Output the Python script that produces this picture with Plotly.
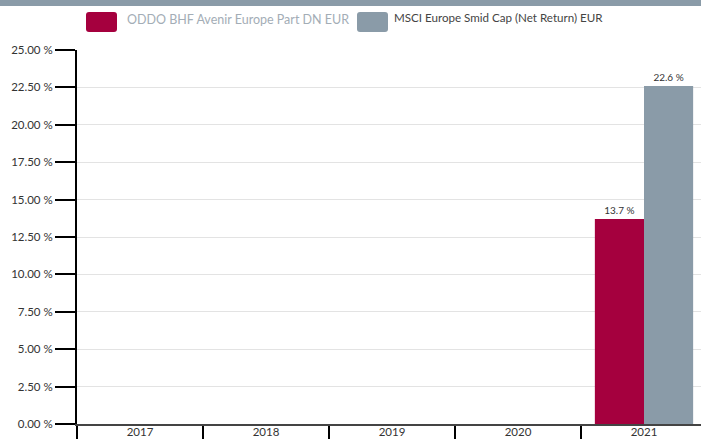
import plotly.graph_objects as go

years = ["2017", "2018", "2019", "2020", "2021"]
fund_name = "ODDO BHF Avenir Europe Part DN EUR"
bench_name = "MSCI Europe Smid Cap (Net Return) EUR"
fund_vals = [None, None, None, None, 13.7]
bench_vals = [None, None, None, None, 22.6]
fund_color = "#a5003e"
bench_color = "#8a9ba8"

W, H = 701, 439
L, R, T, B = 77, 0, 50, 15
pw, ph = W - L - R, H - T - B

def px(x):
    return (x - L) / pw

def py(y):
    return (H - B - y) / ph

def lab(v):
    return [None if x is None else f"{x:.1f} %" for x in v]

def rrect(x0, y0, x1, y1, r=3):
    pts = [
        f"M{px(x0 + r)},{py(y0)}", f"L{px(x1 - r)},{py(y0)}",
        f"Q{px(x1)},{py(y0)} {px(x1)},{py(y0 + r)}", f"L{px(x1)},{py(y1 - r)}",
        f"Q{px(x1)},{py(y1)} {px(x1 - r)},{py(y1)}", f"L{px(x0 + r)},{py(y1)}",
        f"Q{px(x0)},{py(y1)} {px(x0)},{py(y1 - r)}", f"L{px(x0)},{py(y0 + r)}",
        f"Q{px(x0)},{py(y0)} {px(x0 + r)},{py(y0)}", "Z",
    ]
    return " ".join(pts)

fig = go.Figure()
fig.add_trace(go.Bar(x=years, y=fund_vals, name=fund_name, marker_color=fund_color,
                     marker_line_width=0, text=lab(fund_vals), textposition="outside",
                     textfont=dict(size=10, color="#333"), cliponaxis=False, showlegend=False))
fig.add_trace(go.Bar(x=years, y=bench_vals, name=bench_name, marker_color=bench_color,
                     marker_line_width=0, text=lab(bench_vals), textposition="outside",
                     textfont=dict(size=10, color="#333"), cliponaxis=False, showlegend=False))

shapes = [
    dict(type="rect", xref="paper", yref="paper", x0=px(0), x1=px(W), y0=py(6), y1=py(-2),
         fillcolor=bench_color, line_width=0, layer="above"),
    dict(type="path", xref="paper", yref="paper", path=rrect(86, 12, 117, 32),
         fillcolor=fund_color, line_width=0),
    dict(type="path", xref="paper", yref="paper", path=rrect(357, 12, 388, 32),
         fillcolor=bench_color, line_width=0),
]
annotations = [
    dict(text=fund_name, xref="paper", yref="paper", x=px(125), y=py(19.5), xanchor="left",
         yanchor="middle", showarrow=False, font=dict(size=12.5, color="#a3adb6", family="Lato")),
    dict(text=bench_name, xref="paper", yref="paper", x=px(392), y=py(17), xanchor="left",
         yanchor="middle", showarrow=False,
         font=dict(size=11.6, color="#444", family="Lato")),
]

fig.update_layout(
    width=W, height=H, margin=dict(l=L, r=R, t=T, b=B, autoexpand=False),
    paper_bgcolor="white", plot_bgcolor="white",
    barmode="group", bargap=0.22, bargroupgap=0,
    font=dict(family="Lato", size=12, color="#333"),
    shapes=shapes, annotations=annotations, showlegend=False,
    xaxis=dict(type="category", range=[-0.5, -0.5 + pw / 126], tickson="boundaries",
               ticks="outside", ticklen=16, tickwidth=1.5, tickcolor="black",
               showline=True, linecolor="#444", linewidth=2, showgrid=False,
               ticklabelstandoff=-4, automargin=False, tickfont=dict(size=11.5, color="#333")),
    yaxis=dict(range=[0, 25], dtick=2.5, tickformat=".2f", ticksuffix=" %",
               ticks="outside", ticklen=20, tickwidth=2, tickcolor="black",
               showline=True, linecolor="black", linewidth=2,
               showgrid=True, gridcolor="#e3e3e3", gridwidth=1, zeroline=False,
               automargin=False, tickfont=dict(size=11.5, color="#333")),
)

fig.write_html("out.html", config={"displayModeBar": False},
               post_script="document.body.style.margin='0';document.body.style.overflow='hidden';")
